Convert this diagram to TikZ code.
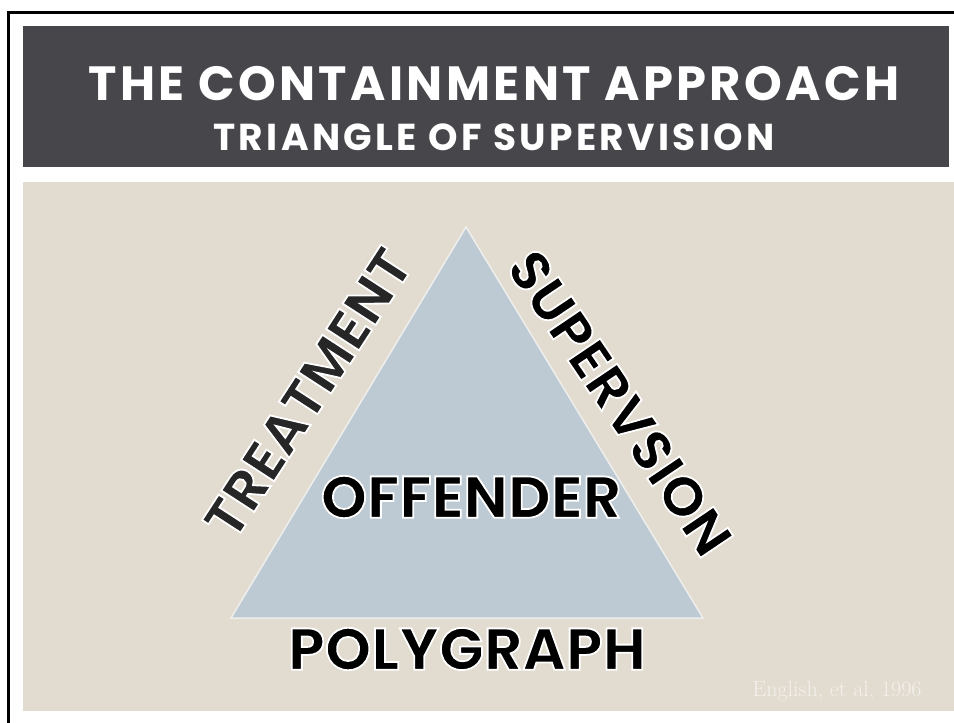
\documentclass[tikz,border=0pt]{standalone}
\usepackage{fontspec}
\setmainfont{Poppins}
\newfontfamily\titlefont[LetterSpace=7]{Poppins Bold}
\newfontfamily\subtitlefont[LetterSpace=9]{Poppins Bold}
\newfontfamily\labfont{Poppins Bold}
\newfontfamily\creditfont{Latin Modern Roman}
\definecolor{darkbar}{HTML}{47464B}
\definecolor{beige}{HTML}{E2DBCF}
\definecolor{trifill}{HTML}{BDCAD4}
\definecolor{triline}{HTML}{EEEEEC}
\definecolor{credit}{HTML}{F4F1EC}
\definecolor{darklab}{HTML}{262626}
\newcommand\outlined[1]{\special{pdf:literal direct 2 Tr 1 1 1 RG 1.8 w}#1\special{pdf:literal direct 0 Tr}}
\tikzset{
  lab/.style={font=\labfont\fontsize{59}{59}\selectfont, text=black, inner sep=0pt},
  ttl/.style={text=white, inner sep=0pt},
}
\begin{document}
\begin{tikzpicture}[x=1pt,y=-1pt]
\useasboundingbox (0,0) rectangle (954,723);
\fill[white] (0,0) rectangle (954,723);
% frame
\draw[black, line width=3pt] (8,723) -- (8,12) -- (954,12);
% header bar
\fill[darkbar] (23,26) rectangle (949,167);
\node[ttl, font=\titlefont\fontsize{48}{48}\selectfont] (title) at (494,84) {THE CONTAINMENT APPROACH};
\node[ttl, font=\subtitlefont\fontsize{37.5}{37.5}\selectfont] (subtitle) at (494,137) {TRIANGLE OF SUPERVISION};
% content panel
\fill[beige] (23,182) rectangle (954,711);
% triangle
\coordinate (apex) at (466,227);
\coordinate (bl) at (231,618);
\coordinate (br) at (703,618);
\filldraw[fill=trifill, draw=triline, line width=1.5pt] (apex) -- (bl) -- (br) -- cycle;
% labels
\node[lab] (offender) at (471,497) {\outlined{OFFENDER}};
\node[lab] (polygraph) at (467,649) {\outlined{POLYGRAPH}};
\node[lab, text=darklab, rotate=57, font=\labfont\fontsize{56}{56}\selectfont] (treatment) at (308,393) {\outlined{TREATMENT}};
\node[lab, rotate=-56, font=\labfont\fontsize{56}{56}\selectfont] (supervision) at (620,403) {\outlined{SUPERVSION}};
% credit
\node[text=credit, inner sep=0pt, font=\creditfont\fontsize{22}{22}\selectfont] (credit) at (837,691) {English, et al, 1996};
\end{tikzpicture}
\end{document}
